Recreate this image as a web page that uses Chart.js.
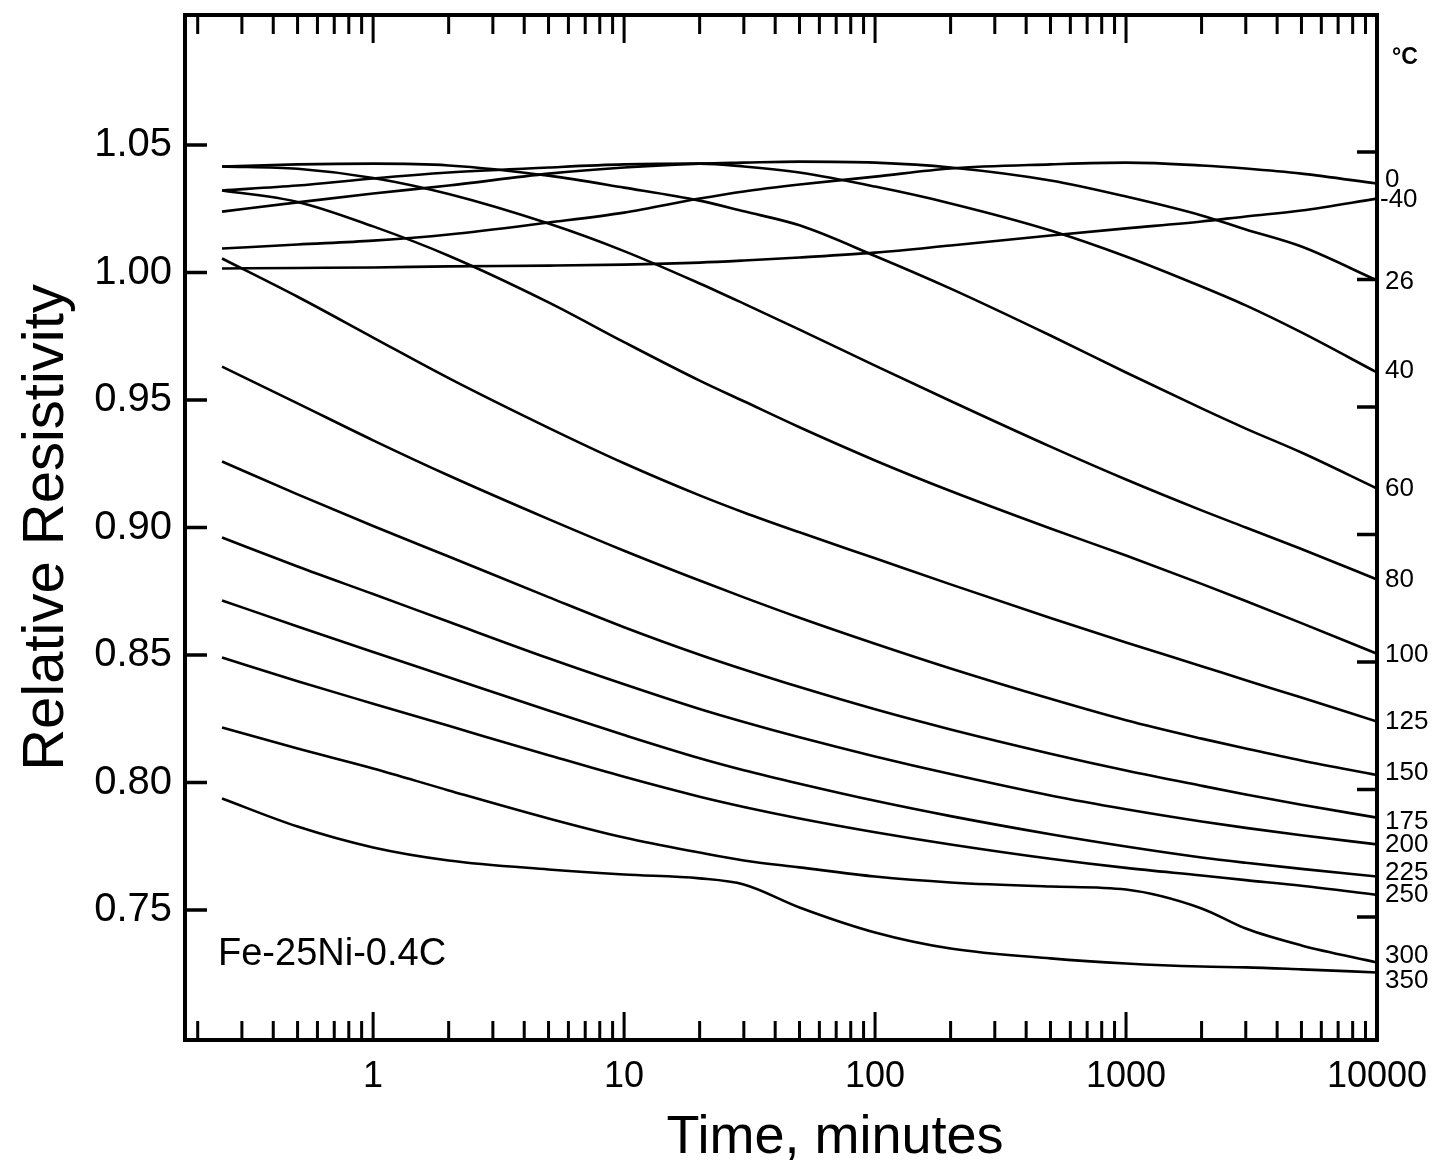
<!DOCTYPE html>
<html>
<head>
<meta charset="utf-8">
<script src="https://cdn.jsdelivr.net/npm/chart.js@4"></script>
<style>
  html, body { margin: 0; padding: 0; background: #fff; }
  #wrap { width: 1441px; height: 1167px; position: relative; }
</style>
</head>
<body>
<div id="wrap"><canvas id="resChart"></canvas></div>
<script>
// time in minutes (log axis)
const times = [0.25, 0.5, 1, 2, 5, 10, 20, 30, 50, 100, 200, 500, 1000, 2000, 3000, 5000, 10000];

// relative resistivity, one array per ageing temperature (deg C)
const rhoM40 = [1.0016, 1.0018, 1.0020, 1.0024, 1.0027, 1.0031, 1.0039, 1.0047, 1.0059, 1.0078, 1.0106, 1.0145, 1.0173, 1.0200, 1.0220, 1.0243, 1.0290];
const rho0   = [1.0094, 1.0110, 1.0125, 1.0149, 1.0196, 1.0235, 1.0290, 1.0318, 1.0345, 1.0376, 1.0408, 1.0424, 1.0431, 1.0420, 1.0408, 1.0388, 1.0349];
const rho26  = [1.0239, 1.0275, 1.0310, 1.0341, 1.0388, 1.0412, 1.0427, 1.0431, 1.0435, 1.0431, 1.0412, 1.0361, 1.0298, 1.0224, 1.0169, 1.0102, 0.9969];
const rho40  = [1.0322, 1.0341, 1.0369, 1.0392, 1.0412, 1.0424, 1.0427, 1.0416, 1.0392, 1.0337, 1.0271, 1.0165, 1.0063, 0.9945, 0.9871, 0.9765, 0.9608];
const rho60  = [1.0416, 1.0424, 1.0427, 1.0420, 1.0380, 1.0333, 1.0282, 1.0240, 1.0185, 1.0065, 0.9937, 0.9753, 0.9608, 0.9467, 0.9388, 0.9294, 0.9153];
const rho80  = [1.0416, 1.0407, 1.0371, 1.0308, 1.0192, 1.0084, 0.9957, 0.9878, 0.9776, 0.9635, 0.9496, 0.9317, 0.9188, 0.9067, 0.9000, 0.8916, 0.8796];
const rho100 = [1.0322, 1.0277, 1.0181, 1.0066, 0.9883, 0.9727, 0.9576, 0.9495, 0.9393, 0.9263, 0.9143, 0.8996, 0.8890, 0.8779, 0.8712, 0.8625, 0.8505];
const rho125 = [1.0055, 0.9905, 0.9745, 0.9586, 0.9391, 0.9252, 0.9126, 0.9059, 0.8981, 0.8879, 0.8777, 0.8645, 0.8549, 0.8456, 0.8401, 0.8333, 0.8239];
const rho150 = [0.9631, 0.9487, 0.9342, 0.9204, 0.9033, 0.8909, 0.8792, 0.8726, 0.8646, 0.8544, 0.8447, 0.8328, 0.8244, 0.8172, 0.8133, 0.8086, 0.8029];
const rho175 = [0.9259, 0.9130, 0.9006, 0.8886, 0.8727, 0.8609, 0.8501, 0.8443, 0.8374, 0.8287, 0.8208, 0.8113, 0.8047, 0.7987, 0.7953, 0.7913, 0.7862];
const rho200 = [0.8961, 0.8847, 0.8739, 0.8630, 0.8487, 0.8385, 0.8288, 0.8237, 0.8177, 0.8102, 0.8033, 0.7949, 0.7895, 0.7847, 0.7822, 0.7793, 0.7757];
const rho225 = [0.8714, 0.8612, 0.8512, 0.8413, 0.8282, 0.8186, 0.8095, 0.8048, 0.7995, 0.7928, 0.7868, 0.7797, 0.7749, 0.7706, 0.7685, 0.7661, 0.7631];
const rho250 = [0.8490, 0.8397, 0.8309, 0.8222, 0.8107, 0.8022, 0.7944, 0.7904, 0.7859, 0.7805, 0.7757, 0.7701, 0.7665, 0.7635, 0.7617, 0.7595, 0.7559];
const rho300 = [0.8216, 0.8133, 0.8055, 0.7969, 0.7859, 0.7784, 0.7725, 0.7694, 0.7667, 0.7631, 0.7608, 0.7592, 0.7580, 0.7506, 0.7427, 0.7361, 0.7294];
const rho350 = [0.7937, 0.7827, 0.7745, 0.7694, 0.7659, 0.7639, 0.7624, 0.7600, 0.7510, 0.7412, 0.7349, 0.7310, 0.7290, 0.7278, 0.7275, 0.7267, 0.7255];

const tempLabels = ['-40', '0', '26', '40', '60', '80', '100', '125', '150', '175', '200', '225', '250', '300', '350'];
const curves = [rhoM40, rho0, rho26, rho40, rho60, rho80, rho100, rho125, rho150, rho175, rho200, rho225, rho250, rho300, rho350];

const xTickValues = [1, 10, 100, 1000, 10000];
const yTickValues = [0.75, 0.80, 0.85, 0.90, 0.95, 1.00, 1.05];

// vertical nudges (px) so the end labels don't collide
const labelNudge = { '-40': 1, '0': -4, '26': 1, '40': -2, '60': 0, '80': 0, '100': 1, '125': 0, '150': -2, '175': 4, '200': 0, '225': -4, '250': 0, '300': -7, '350': 8 };

const FONT = "'Liberation Sans', Arial, sans-serif";

const frameAndTicks = {
  id: 'frameAndTicks',
  afterDatasetsDraw(chart) {
    const { ctx, chartArea: a, scales } = chart;
    const xs = scales.x, ys = scales.y;
    ctx.save();
    ctx.strokeStyle = '#000';
    ctx.lineCap = 'butt';

    // inward ticks on left and right
    ctx.lineWidth = 3.5;
    yTickValues.forEach(v => {
      const y = ys.getPixelForValue(v);
      ctx.beginPath();
      ctx.moveTo(a.left, y); ctx.lineTo(a.left + 22, y);
      ctx.moveTo(a.right, y + 7); ctx.lineTo(a.right - 20, y + 7);
      ctx.stroke();
    });

    // log ticks on top and bottom
    ctx.lineWidth = 3;
    [0.1, 1, 10, 100, 1000].forEach(d => {
      for (let k = 1; k <= 9; k++) {
        const v = d * k;
        if (v < xs.min || v > xs.max) continue;
        const x = xs.getPixelForValue(v);
        const len = k === 1 ? 28 : 19;
        ctx.beginPath();
        ctx.moveTo(x, a.bottom); ctx.lineTo(x, a.bottom - len);
        ctx.moveTo(x, a.top); ctx.lineTo(x, a.top + len);
        ctx.stroke();
      }
    });

    // frame
    ctx.lineWidth = 4;
    ctx.strokeRect(a.left, a.top, a.right - a.left, a.bottom - a.top);

    // temperature labels at curve ends
    ctx.fillStyle = '#000';
    ctx.font = '26px ' + FONT;
    ctx.textBaseline = 'middle';
    ctx.textAlign = 'left';
    chart.data.datasets.forEach((ds, i) => {
      const meta = chart.getDatasetMeta(i);
      const pt = meta.data[meta.data.length - 1];
      const name = tempLabels[i];
      const dx = name === '-40' ? 3 : 8;
      ctx.fillText(name, a.right + dx, pt.y + labelNudge[name]);
    });

    ctx.font = 'bold 23px ' + FONT;
    ctx.fillText('°C', a.right + 15, a.top + 43);

    ctx.font = '38px ' + FONT;
    ctx.fillText('Fe-25Ni-0.4C', a.left + 33, ys.getPixelForValue(0.7325));

    // x-axis title, sitting right of centre as in the original
    ctx.font = '54px ' + FONT;
    ctx.textAlign = 'center';
    ctx.fillText('Time, minutes', a.left + 650, a.bottom + 98);
    ctx.restore();
  }
};

new Chart(document.getElementById('resChart'), {
  type: 'line',
  data: {
    datasets: curves.map((vals, i) => ({
      label: tempLabels[i] + ' °C',
      data: times.map((t, j) => ({ x: t, y: vals[j] })),
      borderColor: '#000',
      borderWidth: 2.6,
      pointRadius: 0,
      fill: false,
      cubicInterpolationMode: 'monotone'
    }))
  },
  options: {
    responsive: true,
    maintainAspectRatio: false,
    animation: false,
    layout: { padding: { top: 15, right: 64, left: 0, bottom: 0 } },
    plugins: { legend: { display: false }, tooltip: { enabled: false } },
    scales: {
      x: {
        type: 'logarithmic',
        min: 0.178,
        max: 10000,
        afterBuildTicks: s => { s.ticks = xTickValues.map(v => ({ value: v })); },
        afterFit: s => { s.height = 127; s.paddingLeft = 0; s.paddingRight = 0; },
        grid: { display: false, drawTicks: false },
        border: { display: false },
        ticks: {
          color: '#000',
          padding: 15,
          maxRotation: 0,
          autoSkip: false,
          font: { family: FONT, size: 36 },
          callback: v => String(v)
        },
        title: { display: false }
      },
      y: {
        min: 0.699,
        max: 1.101,
        afterBuildTicks: s => { s.ticks = yTickValues.map(v => ({ value: v })); },
        afterFit: s => { s.width = 185; s.paddingTop = 0; s.paddingBottom = 0; },
        grid: { display: false, drawTicks: false },
        border: { display: false },
        ticks: {
          color: '#000',
          padding: 13,
          autoSkip: false,
          font: { family: FONT, size: 40 },
          callback: v => Number(v).toFixed(2)
        },
        title: {
          display: true,
          text: 'Relative Resistivity',
          color: '#000',
          font: { family: FONT, size: 58, lineHeight: 1 },
          padding: { top: 18, bottom: 0 }
        }
      }
    }
  },
  plugins: [frameAndTicks]
});
</script>
</body>
</html>
